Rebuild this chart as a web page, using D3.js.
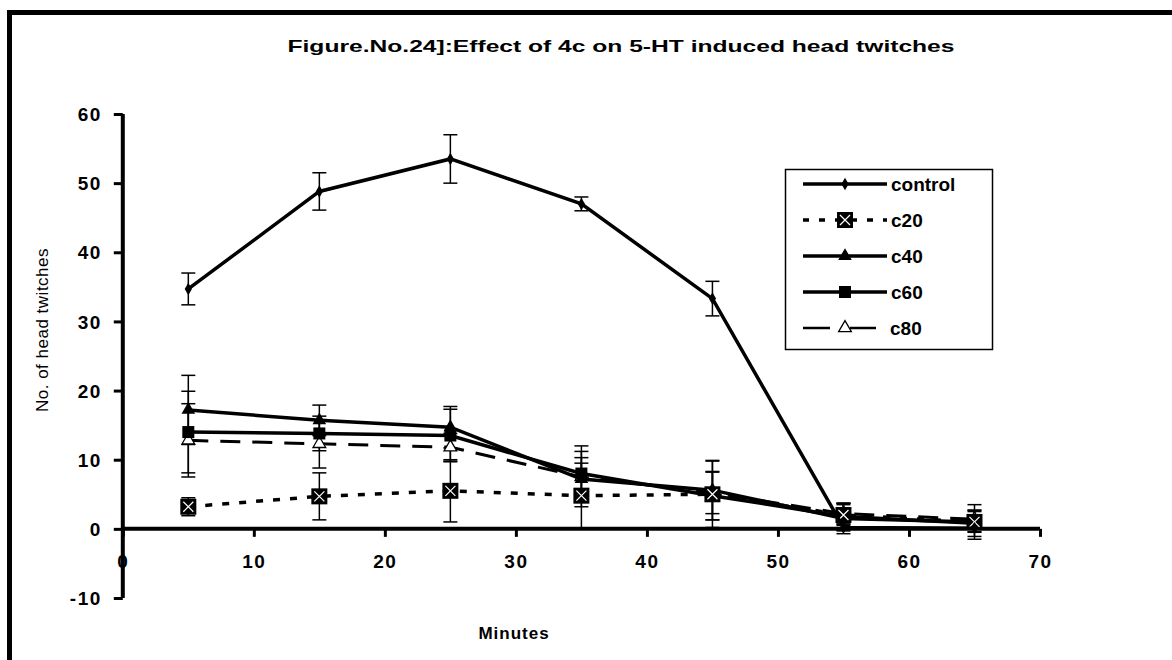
<!DOCTYPE html>
<html>
<head>
<meta charset="utf-8">
<script src="https://cdnjs.cloudflare.com/ajax/libs/d3/7.8.5/d3.min.js"></script>
<style>
  body { margin: 0; background: #fff; }
  text { font-family: "Liberation Sans", Arial, sans-serif; fill: #000; }
</style>
</head>
<body>
<div class="chart"></div>
<script>
const w = 1172;
const h = 660;

// data
const minutes = [5, 15, 25, 35, 45, 55, 65];
const seriesNames = ["control", "c20", "c40", "c60", "c80"];
const control = [34.7, 48.8, 53.5, 47.0, 33.3, 0.2, 0.1];
const controlErr = [2.3, 2.7, 3.5, 1.0, 2.5, 0.5, 0.5];
const c20 = [3.2, 4.7, 5.5, 4.8, 5.0, 2.0, 1.0];
const c20Err = [1.3, 3.4, 4.5, 4.7, 4.8, 1.5, 1.5];
const c40 = [17.2, 15.7, 14.7, 7.2, 5.6, 1.5, 1.0];
const c40Err = [5.0, 2.2, 3.0, 4.0, 4.3, 2.2, 2.5];
const c60 = [14.0, 13.8, 13.5, 8.0, 4.8, 1.8, 0.8];
const c60Err = [5.9, 2.5, 3.8, 4.0, 3.5, 1.9, 1.9];
const c80 = [12.8, 12.3, 11.8, 7.5, 5.2, 2.2, 1.4];
const c80Err = [5.3, 3.5, 2.0, 2.8, 3.0, 1.5, 1.3];
const xTicks = [0, 10, 20, 30, 40, 50, 60, 70];
const yTicks = [-10, 0, 10, 20, 30, 40, 50, 60];

const series = [
  {name: "control", vals: control, err: controlErr, dash: null, width: 3.5, marker: "diamond"},
  {name: "c20", vals: c20, err: c20Err, dash: "7,10", width: 3.5, marker: "xbox"},
  {name: "c40", vals: c40, err: c40Err, dash: null, width: 3.5, marker: "tri"},
  {name: "c60", vals: c60, err: c60Err, dash: null, width: 3.5, marker: "square"},
  {name: "c80", vals: c80, err: c80Err, dash: "20,12", width: 3, marker: "opentri"}
];

let svg = d3.select(".chart")
    .append("svg")
    .attr("width", w)
    .attr("height", h);

// outer frame (only top/left visible)
svg.append("rect")
    .attr("x", 9.5).attr("y", 12.5)
    .attr("width", 1300).attr("height", 800)
    .attr("fill", "none").attr("stroke", "#000").attr("stroke-width", 5);

let x = d3.scaleLinear().domain([0, 70]).range([122.8, 1040]);
let y = d3.scaleLinear().domain([-10, 60]).range([598, 114]);

let fmt = d => String(d); // plain hyphen for negatives, like the original

// title
svg.append("text")
    .attr("x", 621).attr("y", 52)
    .attr("text-anchor", "middle")
    .attr("font-size", 17).attr("font-weight", "bold")
    .attr("textLength", 667).attr("lengthAdjust", "spacingAndGlyphs")
    .text("Figure.No.24]:Effect of 4c on 5-HT induced head twitches");

// y axis
let yAxis = svg.append("g")
    .attr("transform", "translate(" + x(0) + ",0)")
    .call(d3.axisLeft(y).tickValues(yTicks).tickSize(9).tickPadding(12).tickFormat(fmt));
yAxis.select(".domain").attr("stroke-width", 4).attr("d", "M0," + y(60) + "V" + y(-10));
yAxis.selectAll(".tick line").attr("stroke-width", 3);
yAxis.selectAll(".tick text")
    .attr("font-size", 19).attr("font-weight", "bold")
    .attr("font-family", "Liberation Sans, Arial, sans-serif")
    .attr("letter-spacing", 1.5).attr("dy", "0.35em");

// x axis at y=0
let xAxis = svg.append("g")
    .attr("transform", "translate(0," + y(0) + ")")
    .call(d3.axisBottom(x).tickValues(xTicks).tickSize(8).tickPadding(18).tickFormat(fmt));
xAxis.select(".domain").attr("stroke-width", 4).attr("d", "M" + x(0) + ",0H" + x(70));
xAxis.selectAll(".tick line").attr("stroke-width", 3);
xAxis.selectAll(".tick text")
    .attr("font-size", 19).attr("font-weight", "bold")
    .attr("font-family", "Liberation Sans, Arial, sans-serif")
    .attr("letter-spacing", 1.5);

// axis titles
svg.append("text")
    .attr("x", 514).attr("y", 639)
    .attr("text-anchor", "middle")
    .attr("font-size", 17).attr("font-weight", "bold")
    .attr("letter-spacing", 1)
    .text("Minutes");

svg.append("text")
    .attr("transform", "translate(48,330) rotate(-90)")
    .attr("text-anchor", "middle")
    .attr("font-size", 17)
    .attr("letter-spacing", 0.5)
    .text("No. of head twitches");

let plot = svg.append("g");

// error bars
series.forEach(s => {
  s.vals.forEach((v, i) => {
    let e = s.err[i];
    let cx = x(minutes[i]);
    plot.append("line")
        .attr("x1", cx).attr("x2", cx)
        .attr("y1", y(v - e)).attr("y2", y(v + e))
        .attr("stroke", "#000").attr("stroke-width", 1.5);
    [v - e, v + e].forEach(c => {
      plot.append("line")
          .attr("x1", cx - 7).attr("x2", cx + 7)
          .attr("y1", y(c)).attr("y2", y(c))
          .attr("stroke", "#000").attr("stroke-width", 1.5);
    });
  });
});

let line = d3.line()
    .x((d, i) => x(minutes[i]))
    .y(d => y(d));

function drawMarker(g, type, cx, cy) {
  if (type === "diamond") {
    g.append("path").attr("d", d3.symbol(d3.symbolDiamond, 45)()).attr("transform", "translate(" + cx + "," + cy + ")").attr("fill", "#000");
  } else if (type === "xbox") {
    g.append("rect").attr("x", cx - 8).attr("y", cy - 8).attr("width", 16).attr("height", 16).attr("fill", "#000");
    g.append("path").attr("d", "M" + (cx - 5) + "," + (cy - 5) + "L" + (cx + 5) + "," + (cy + 5) + "M" + (cx + 5) + "," + (cy - 5) + "L" + (cx - 5) + "," + (cy + 5))
        .attr("stroke", "#fff").attr("stroke-width", 1.2);
  } else if (type === "tri") {
    g.append("path").attr("d", d3.symbol(d3.symbolTriangle, 80)()).attr("transform", "translate(" + cx + "," + cy + ")").attr("fill", "#000");
  } else if (type === "square") {
    g.append("rect").attr("x", cx - 6).attr("y", cy - 6).attr("width", 12).attr("height", 12).attr("fill", "#000");
  } else if (type === "opentri") {
    g.append("path").attr("d", d3.symbol(d3.symbolTriangle, 70)()).attr("transform", "translate(" + cx + "," + cy + ")").attr("fill", "#fff").attr("stroke", "#000").attr("stroke-width", 1.3);
  }
}

// lines + markers, drawn back to front
[...series].reverse().forEach(s => {
  plot.append("path")
      .datum(s.vals)
      .attr("d", line)
      .attr("fill", "none")
      .attr("stroke", "#000")
      .attr("stroke-width", s.width)
      .attr("stroke-dasharray", s.dash);
  s.vals.forEach((v, i) => drawMarker(plot, s.marker, x(minutes[i]), y(v)));
});

// legend
let leg = svg.append("g");
leg.append("rect")
    .attr("x", 785.5).attr("y", 169.5)
    .attr("width", 207).attr("height", 180)
    .attr("fill", "#fff").attr("stroke", "#000").attr("stroke-width", 1.5);

let legY = d3.scalePoint().domain(seriesNames).range([184, 328]);

series.forEach(s => {
  let ly = legY(s.name);
  if (s.name === "c80") {
    leg.append("path").attr("d", "M803," + ly + "H830M850," + ly + "H876")
        .attr("stroke", "#000").attr("stroke-width", 2.5);
  } else {
    leg.append("line")
        .attr("x1", 803).attr("x2", 887)
        .attr("y1", ly).attr("y2", ly)
        .attr("stroke", "#000").attr("stroke-width", s.width)
        .attr("stroke-dasharray", s.name === "c20" ? "6,10" : null);
  }
  drawMarker(leg, s.marker, 845, ly);
  leg.append("text")
      .attr("x", s.name === "c80" ? 890 : 891).attr("y", ly + 7)
      .attr("font-size", 19).attr("font-weight", "bold")
      .text(s.name);
});
</script>
</body>
</html>
